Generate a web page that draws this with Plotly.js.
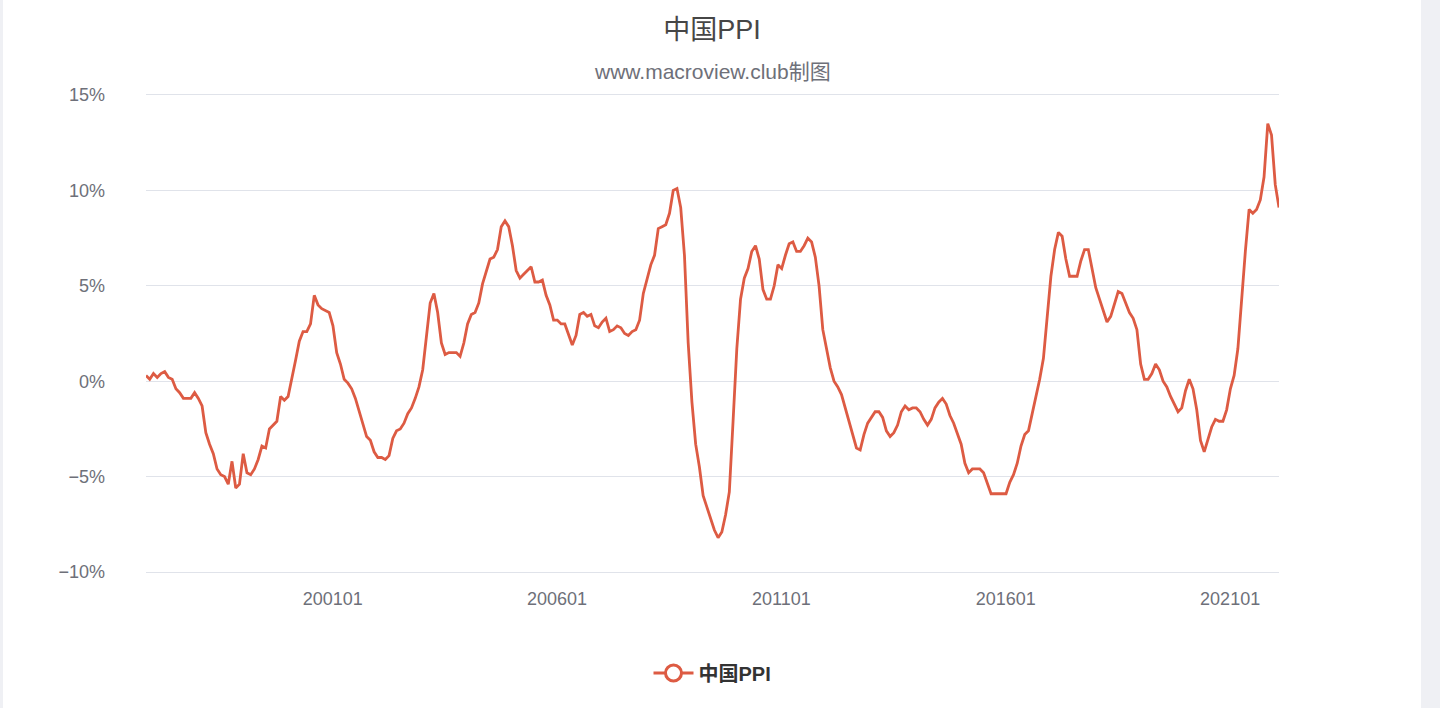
<!DOCTYPE html>
<html>
<head>
<meta charset="utf-8">
<script src="https://cdn.plot.ly/plotly-3.0.1.min.js"></script>
<style>
  html, body { margin: 0; padding: 0; background: #eff0f4; }
  #chart { position: absolute; left: 3px; top: 0; width: 1418px; height: 708px; background: #fff; }
</style>
</head>
<body>
<div id="chart"></div>
<script>
// China PPI, year-on-year %, monthly from 1996-10 to 2022-01
const startYear = 1996;
const startMonth = 10;

const ppi1996 = [0.3, 0.1, 0.4];
const ppi1997 = [0.2, 0.4, 0.5, 0.2, 0.1, -0.4, -0.6, -0.9, -0.9, -0.9, -0.6, -0.9];
const ppi1998 = [-1.3, -2.7, -3.3, -3.8, -4.6, -4.9, -5.0, -5.4, -4.2, -5.6, -5.4, -3.8];
const ppi1999 = [-4.8, -4.9, -4.6, -4.1, -3.4, -3.5, -2.5, -2.3, -2.1, -0.8, -1.0, -0.8];
const ppi2000 = [0.1, 1.1, 2.1, 2.6, 2.6, 3.0, 4.5, 4.0, 3.8, 3.7, 3.6, 2.9];
const ppi2001 = [1.5, 0.9, 0.1, -0.1, -0.4, -0.9, -1.6, -2.2, -2.9, -3.1, -3.7, -4.0];
const ppi2002 = [-4.0, -4.1, -3.9, -3.0, -2.6, -2.5, -2.2, -1.7, -1.4, -0.9, -0.3, 0.6];
const ppi2003 = [2.3, 4.1, 4.6, 3.6, 2.0, 1.4, 1.5, 1.5, 1.5, 1.3, 2.0, 3.0];
const ppi2004 = [3.5, 3.6, 4.1, 5.1, 5.8, 6.4, 6.5, 6.9, 8.1, 8.4, 8.1, 7.1];
const ppi2005 = [5.8, 5.4, 5.6, 5.8, 6.0, 5.2, 5.2, 5.3, 4.5, 4.0, 3.2, 3.2];
const ppi2006 = [3.0, 3.0, 2.5, 1.9, 2.4, 3.5, 3.6, 3.4, 3.5, 2.9, 2.8, 3.1];
const ppi2007 = [3.3, 2.6, 2.7, 2.9, 2.8, 2.5, 2.4, 2.6, 2.7, 3.2, 4.6, 5.4];
const ppi2008 = [6.1, 6.6, 8.0, 8.1, 8.2, 8.8, 10.0, 10.1, 9.1, 6.6, 2.0, -1.1];
const ppi2009 = [-3.3, -4.5, -6.0, -6.6, -7.2, -7.8, -8.2, -7.9, -7.0, -5.8, -2.1, 1.7];
const ppi2010 = [4.3, 5.4, 5.9, 6.8, 7.1, 6.4, 4.8, 4.3, 4.3, 5.0, 6.1, 5.9];
const ppi2011 = [6.6, 7.2, 7.3, 6.8, 6.8, 7.1, 7.5, 7.3, 6.5, 5.0, 2.7, 1.7];
const ppi2012 = [0.7, 0.0, -0.3, -0.7, -1.4, -2.1, -2.9, -3.5, -3.6, -2.8, -2.2, -1.9];
const ppi2013 = [-1.6, -1.6, -1.9, -2.6, -2.9, -2.7, -2.3, -1.6, -1.3, -1.5, -1.4, -1.4];
const ppi2014 = [-1.6, -2.0, -2.3, -2.0, -1.4, -1.1, -0.9, -1.2, -1.8, -2.2, -2.7, -3.3];
const ppi2015 = [-4.3, -4.8, -4.6, -4.6, -4.6, -4.8, -5.4, -5.9, -5.9, -5.9, -5.9, -5.9];
const ppi2016 = [-5.3, -4.9, -4.3, -3.4, -2.8, -2.6, -1.7, -0.8, 0.1, 1.2, 3.3, 5.5];
const ppi2017 = [6.9, 7.8, 7.6, 6.4, 5.5, 5.5, 5.5, 6.3, 6.9, 6.9, 5.8, 4.9];
const ppi2018 = [4.3, 3.7, 3.1, 3.4, 4.1, 4.7, 4.6, 4.1, 3.6, 3.3, 2.7, 0.9];
const ppi2019 = [0.1, 0.1, 0.4, 0.9, 0.6, 0.0, -0.3, -0.8, -1.2, -1.6, -1.4, -0.5];
const ppi2020 = [0.1, -0.4, -1.5, -3.1, -3.7, -3.0, -2.4, -2.0, -2.1, -2.1, -1.5, -0.4];
const ppi2021 = [0.3, 1.7, 4.4, 6.8, 9.0, 8.8, 9.0, 9.5, 10.7, 13.5, 12.9, 10.3];
const ppi2022 = [9.1];

const tickLabels = ["200101", "200601", "201101", "201601", "202101"];

const ppi = [].concat(ppi1996, ppi1997, ppi1998, ppi1999, ppi2000, ppi2001,
  ppi2002, ppi2003, ppi2004, ppi2005, ppi2006, ppi2007, ppi2008, ppi2009,
  ppi2010, ppi2011, ppi2012, ppi2013, ppi2014, ppi2015, ppi2016, ppi2017,
  ppi2018, ppi2019, ppi2020, ppi2021, ppi2022);

// month labels like 199610
let months = [];
let y = startYear, m = startMonth;
for (let i = 0; i < ppi.length; i++) {
  months.push(String(y) + (m < 10 ? "0" + m : String(m)));
  m++;
  if (m > 12) { m = 1; y++; }
}

const red = "#dd5b43";
const gray = "#6e7079";
const gridColor = "#e0e3ea";
const cnFont = "Helvetica Neue, Liberation Sans, Noto Sans CJK SC, sans-serif";

let traces = [
  {
    type: "scatter",
    mode: "lines",
    x: months,
    y: ppi,
    line: { color: red, width: 2.8 },
    showlegend: false,
    hoverinfo: "x+y",
  },
  {
    // legend entry only
    type: "scatter",
    mode: "lines+markers",
    x: [null],
    y: [null],
    name: "中国PPI",
    line: { color: red, width: 3 },
    marker: { symbol: "circle", size: 16, color: "#fff", line: { color: red, width: 3 } },
  },
];

let layout = {
  width: 1418,
  height: 708,
  paper_bgcolor: "#fff",
  plot_bgcolor: "#fff",
  margin: { l: 143, r: 142, t: 95, b: 136 },
  font: { family: cnFont, color: gray, size: 18 },
  title: {
    text: "中国PPI",
    x: 0.5,
    xanchor: "center",
    yref: "container",
    y: 1 - 30 / 708,
    yanchor: "middle",
    font: { size: 27, color: "#464646", family: cnFont },
  },
  annotations: [
    {
      text: "www.macroview.club制图",
      xref: "paper",
      yref: "paper",
      x: 0.5,
      y: (572 - 72) / 477,
      xanchor: "center",
      yanchor: "middle",
      showarrow: false,
      font: { size: 21, color: gray, family: cnFont },
    },
  ],
  xaxis: {
    type: "category",
    range: [0, ppi.length - 1],
    tickmode: "array",
    tickvals: tickLabels,
    ticktext: tickLabels,
    showgrid: false,
    showline: true,
    mirror: true,
    linecolor: gridColor,
    linewidth: 1,
    zeroline: false,
    ticks: "",
    ticklabelstandoff: 10,
    ticklabelshift: -4,
    tickfont: { size: 18, color: gray },
  },
  yaxis: {
    range: [-10, 15],
    dtick: 5,
    tick0: 0,
    ticksuffix: "%",
    showgrid: true,
    gridcolor: gridColor,
    gridwidth: 1,
    zeroline: false,
    showline: false,
    ticks: "",
    ticklabelstandoff: 40,
    tickfont: { size: 18, color: gray },
  },
  showlegend: true,
  legend: {
    orientation: "h",
    x: 0.5,
    xanchor: "center",
    yref: "container",
    y: 1 - 673 / 708,
    yanchor: "middle",
    font: { size: 20, color: "#333", weight: 600 },
    itemwidth: 40,
  },
};

Plotly.newPlot("chart", traces, layout, { displayModeBar: false, staticPlot: true });
</script>
</body>
</html>
